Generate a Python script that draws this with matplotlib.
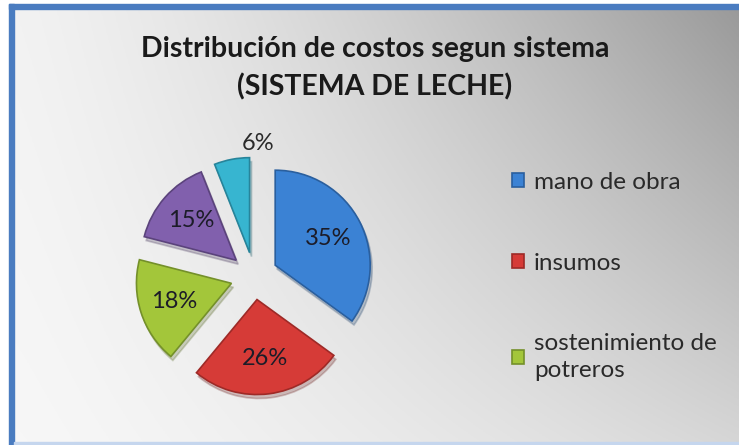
import matplotlib
matplotlib.use("Agg")
import matplotlib.pyplot as plt
import numpy as np

# chart data
labels = ["mano de obra", "insumos", "sostenimiento de\npotreros", "otros", "varios"]
values = [35, 26, 18, 15, 6]
colors = ["#3b82d4", "#d63b37", "#a3c63a", "#8160ad", "#37b5d0"]
edges = ["#2a5f9e", "#9e2a27", "#74902a", "#5b437c", "#27849a"]
title = "Distribución de costos segun sistema\n(SISTEMA DE LECHE)"
legend_count = 3  # only three entries fit in the legend box

plt.rcParams["font.family"] = ["Lato", "DejaVu Sans"]

W, H = 739, 445
fig = plt.figure(figsize=(W / 100, H / 100), dpi=100)

# background with grey gradient and blue frame
bg = fig.add_axes([0, 0, 1, 1], zorder=-5)
u = np.linspace(0, 1, 300)[None, :]
w = np.linspace(0, 1, 200)[:, None]
tl, tr, bl, br = 0.95, 0.60, 0.97, 0.84
shade = tl * (1 - u**1.4) * (1 - w) + tr * u**1.4 * (1 - w) + bl * (1 - u**1.4) * w + br * u**1.4 * w
bg.imshow(np.dstack([shade] * 3), extent=[0, W, H, 0], aspect="auto")
bg.add_patch(plt.Rectangle((0, 0), W, 4, color="white"))
bg.add_patch(plt.Rectangle((0, 0), 9, H, color="white"))
bg.add_patch(plt.Rectangle((9, 4), W - 9, 5, color="#4a7cc0"))
bg.add_patch(plt.Rectangle((9, 4), 5, H - 4, color="#4a7cc0"))
bg.add_patch(plt.Rectangle((14, H - 3), W - 14, 3, color="#c5d6ee"))
bg.set_xlim(0, W)
bg.set_ylim(H, 0)
bg.axis("off")

# title
fig.text(375 / W, 1 - 68 / H, title, ha="center", va="center",
         fontsize=20.5, fontweight="bold", color="#1a1a1a", linespacing=1.5)

# pie
ax = fig.add_axes([0.1509, 0.0596, 0.3857, 0.6404])
wedges, texts, autotexts = ax.pie(
    values, colors=colors, startangle=90, counterclock=False,
    explode=[0.25] * len(values), autopct="%d%%", pctdistance=0.63,
    wedgeprops=dict(linewidth=1.2),
    shadow=dict(ox=0.015, oy=-0.03, shade=0.5, alpha=0.25),
    textprops=dict(fontsize=17, color="#1c1c28"))
for wd, ec in zip(wedges, edges):
    wd.set_edgecolor(ec)

# small slice label sits above the slice
small = autotexts[-1]
ang = np.deg2rad(min(wedges[-1].theta1, wedges[-1].theta2) - 1.6)
small.set_position((1.40 * np.cos(ang), 1.40 * np.sin(ang)))
small.set_color("#2a2a2a")

ax.set_xlim(-1.5, 1.5)
ax.set_ylim(-1.5, 1.5)
ax.set_aspect("equal")
ax.axis("off")

# legend (first three entries only)
leg = fig.legend(wedges[:legend_count], labels[:legend_count],
                 loc="upper left", bbox_to_anchor=(512 / W, 1 - 172 / H),
                 frameon=False, fontsize=17.5, labelspacing=2.45,
                 handlelength=0.5, handleheight=0.5, handletextpad=0.4,
                 borderaxespad=0, borderpad=0)
for t in leg.get_texts():
    t.set_color("#2a2a2a")
    t.set_linespacing(1.35)

fig.savefig("out.png", dpi=100)
